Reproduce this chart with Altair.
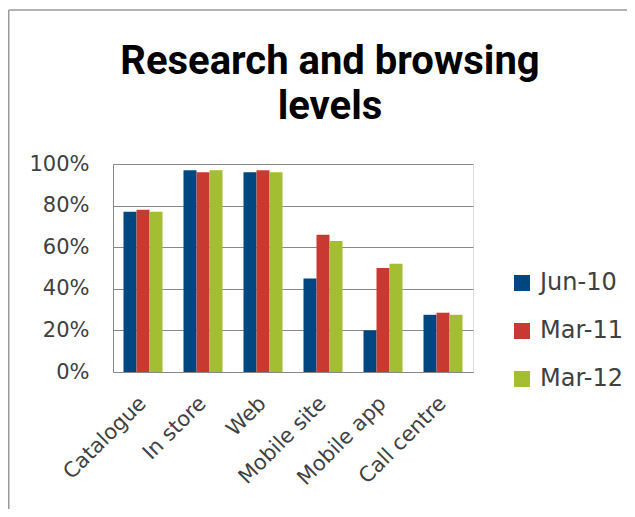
import altair as alt
import pandas as pd

categories = ["Catalogue", "In store", "Web", "Mobile site", "Mobile app", "Call centre"]
series = ["Jun-10", "Mar-11", "Mar-12"]
jun10 = [0.77, 0.97, 0.96, 0.45, 0.20, 0.275]
mar11 = [0.78, 0.96, 0.97, 0.66, 0.50, 0.285]
mar12 = [0.77, 0.97, 0.96, 0.63, 0.52, 0.275]
colors = ["#004680", "#C83A31", "#A4BE31"]

rows = []
for s, vals in zip(series, [jun10, mar11, mar12]):
    for c, v in zip(categories, vals):
        rows.append({"category": c, "series": s, "value": v})
df = pd.DataFrame(rows)

bars = alt.Chart(df).mark_bar().encode(
    x=alt.X("category:N", sort=categories,
            scale=alt.Scale(paddingInner=0.35, paddingOuter=0.175),
            axis=alt.Axis(title=None, labelAngle=-45, labelAlign="right", labelBaseline="middle",
                          labelFontSize=21, labelColor="#404040", labelFont="DejaVu Sans",
                          labelPadding=28, ticks=False, domainColor="#888888", grid=False)),
    xOffset=alt.XOffset("series:N", sort=series, scale=alt.Scale(paddingInner=0, paddingOuter=0)),
    y=alt.Y("value:Q", scale=alt.Scale(domain=[0, 1], nice=False),
            axis=alt.Axis(title=None, format=".0%", values=[0, 0.2, 0.4, 0.6, 0.8, 1.0],
                          labelFontSize=21, labelColor="#404040", labelFont="DejaVu Sans",
                          labelPadding=24, ticks=False, domainColor="#888888",
                          gridColor="#888888", gridWidth=1)),
    color=alt.Color("series:N", sort=series, scale=alt.Scale(domain=series, range=colors),
                    legend=alt.Legend(title=None, orient="none", legendX=397, legendY=107,
                                      symbolType="square", symbolSize=256, symbolStrokeWidth=0,
                                      labelFontSize=24, labelColor="#404040", labelFont="DejaVu Sans",
                                      rowPadding=24, labelOffset=6)),
)

frame_top = alt.Chart(pd.DataFrame({"a": [0]})).mark_rule(stroke="#999999", strokeWidth=1.5).encode(
    x=alt.value(-104.25), x2=alt.value(700), y=alt.value(-154)
)
frame_left = alt.Chart(pd.DataFrame({"a": [0]})).mark_rule(stroke="#999999", strokeWidth=1.5).encode(
    x=alt.value(-104.25), y=alt.value(-154), y2=alt.value(600)
)

chart = alt.layer(frame_top, frame_left, bars).properties(
    width=360, height=208,
    title=alt.TitleParams(["Research and browsing", "levels"], fontSize=40, font="Roboto",
                          fontWeight="bold", color="#000000", anchor="middle", frame="group",
                          dx=37, lineHeight=45, offset=-118),
    autosize=alt.AutoSizeParams(type="none"),
    padding={"left": 105, "top": 156, "right": 154, "bottom": 137},
).configure_view(stroke=None).configure(background="white")

chart.save("out.html", embed_options={"renderer": "svg", "actions": False})
